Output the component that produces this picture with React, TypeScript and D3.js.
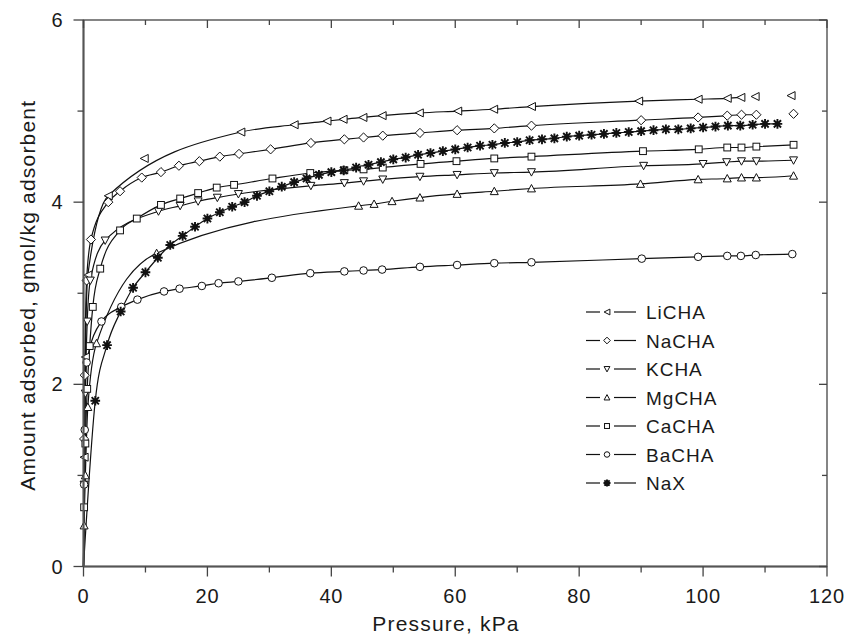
import React from "react";
import * as d3 from "d3";

// pressure (kPa) / amount adsorbed (gmol/kg)
const liP = [0.1, 0.3, 0.7, 4.0, 9.8, 25.4, 34.0, 39.3, 41.9, 45.1, 48.2, 54.2, 60.4, 66.2, 72.3, 89.6, 99.2, 103.9, 106.1, 108.4, 114.2];
const liQ = [1.2, 2.3, 3.2, 4.07, 4.48, 4.77, 4.85, 4.89, 4.91, 4.93, 4.95, 4.98, 5.0, 5.02, 5.05, 5.11, 5.13, 5.14, 5.15, 5.16, 5.17];

const naP = [0.1, 0.2, 0.5, 1.2, 4.0, 5.9, 9.4, 12.5, 15.4, 18.7, 22.0, 25.1, 30.2, 36.7, 42.1, 45.2, 48.3, 54.3, 60.3, 66.3, 72.3, 90.0, 99.2, 103.9, 106.2, 108.6, 114.6];
const naQ = [1.4, 2.1, 3.14, 3.59, 4.0, 4.12, 4.27, 4.33, 4.4, 4.45, 4.5, 4.53, 4.58, 4.65, 4.69, 4.71, 4.73, 4.76, 4.79, 4.81, 4.84, 4.9, 4.93, 4.95, 4.96, 4.96, 4.97];

const kP = [0.1, 0.3, 0.6, 1.1, 3.5, 12.1, 15.6, 18.5, 21.6, 25.0, 36.7, 42.1, 45.2, 48.3, 54.3, 60.3, 66.3, 72.3, 90.4, 100.0, 103.8, 106.2, 108.6, 114.6];
const kQ = [0.9, 1.9, 2.69, 3.14, 3.58, 3.9, 3.96, 4.01, 4.05, 4.09, 4.18, 4.21, 4.23, 4.25, 4.28, 4.3, 4.32, 4.33, 4.4, 4.42, 4.44, 4.45, 4.45, 4.46];

const mgP = [0.1, 0.3, 0.7, 2.1, 11.8, 44.4, 46.9, 49.8, 54.3, 60.3, 66.3, 72.3, 89.9, 99.2, 103.9, 106.2, 108.6, 114.6];
const mgQ = [0.45, 1.0, 1.75, 2.45, 3.44, 3.96, 3.98, 4.01, 4.05, 4.09, 4.12, 4.15, 4.2, 4.25, 4.26, 4.27, 4.27, 4.29];

const caP = [0.1, 0.3, 0.6, 1.0, 1.5, 2.7, 5.9, 8.6, 12.5, 15.6, 18.5, 21.5, 24.3, 30.5, 36.6, 42.1, 45.2, 48.3, 54.4, 60.2, 66.3, 72.3, 90.3, 99.3, 103.9, 106.2, 108.6, 114.6];
const caQ = [0.65, 1.35, 1.95, 2.42, 2.85, 3.27, 3.69, 3.82, 3.97, 4.04, 4.1, 4.16, 4.19, 4.26, 4.32, 4.35, 4.36, 4.38, 4.42, 4.45, 4.48, 4.5, 4.56, 4.58, 4.6, 4.6, 4.61, 4.63];

const baP = [0.1, 0.2, 0.5, 2.9, 6.1, 8.7, 13.0, 15.5, 19.1, 21.8, 25.0, 30.4, 36.6, 42.1, 45.2, 48.2, 54.3, 60.3, 66.3, 72.3, 90.1, 99.2, 103.9, 106.1, 108.5, 114.4];
const baQ = [0.9, 1.5, 2.24, 2.69, 2.85, 2.93, 3.02, 3.05, 3.08, 3.11, 3.13, 3.17, 3.22, 3.24, 3.25, 3.26, 3.29, 3.31, 3.33, 3.34, 3.38, 3.4, 3.41, 3.41, 3.42, 3.43];

const naxP = [1.9, 3.8, 6, 8, 10, 12, 14, 16, 18, 20, 22, 24, 26, 28, 30, 32, 34, 36, 38, 40, 42, 44, 46, 48, 50, 52, 54, 56, 58, 60, 62, 64, 66, 68, 70, 72, 74, 76, 78, 80, 82, 84, 86, 88, 90, 92, 94, 96, 98, 100, 102, 104, 106, 108, 110, 112];
const naxQ = [1.82, 2.43, 2.8, 3.06, 3.23, 3.39, 3.53, 3.63, 3.73, 3.82, 3.89, 3.95, 4.0, 4.07, 4.12, 4.17, 4.22, 4.26, 4.3, 4.33, 4.35, 4.38, 4.41, 4.44, 4.47, 4.49, 4.52, 4.54, 4.56, 4.58, 4.6, 4.62, 4.63, 4.65, 4.66, 4.68, 4.69, 4.7, 4.72, 4.73, 4.74, 4.75, 4.76, 4.77, 4.78, 4.79, 4.8, 4.8, 4.81, 4.82, 4.83, 4.84, 4.84, 4.85, 4.86, 4.86];

const xTicks = [0, 20, 40, 60, 80, 100, 120];
const xMinor = [10, 30, 50, 70, 90, 110];
const yTicks = [0, 2, 4, 6];
const yMinor = [1, 3, 5];

// points left out of the drawn curve, and where each curve stops
const series = [
  { name: "LiCHA", p: liP, q: liQ, marker: "left", lineMax: 106.5, offLine: [9.8] },
  { name: "NaCHA", p: naP, q: naQ, marker: "diamond", lineMax: 109, offLine: [] },
  { name: "KCHA", p: kP, q: kQ, marker: "down", lineMax: 120, offLine: [] },
  { name: "MgCHA", p: mgP, q: mgQ, marker: "up", lineMax: 120, offLine: [] },
  { name: "CaCHA", p: caP, q: caQ, marker: "square", lineMax: 120, offLine: [] },
  { name: "BaCHA", p: baP, q: baQ, marker: "circle", lineMax: 120, offLine: [] },
  { name: "NaX", p: naxP, q: naxQ, marker: "star", lineMax: 120, offLine: [] },
];

const W = 849;
const H = 637;
const m = { left: 83.5, right: 22, top: 20, bottom: 70.5 };
const FONT = "'Liberation Sans', Arial, sans-serif";

function Marker({ type, x, y, s }) {
  const st = { fill: "#fff", stroke: "#111", strokeWidth: 1 };
  if (type === "circle") return <circle cx={x} cy={y} r={s * 0.95} {...st} />;
  if (type === "square") return <rect x={x - s * 0.85} y={y - s * 0.85} width={s * 1.7} height={s * 1.7} {...st} />;
  if (type === "diamond")
    return <path d={`M${x},${y - s * 1.15}L${x + s * 1.15},${y}L${x},${y + s * 1.15}L${x - s * 1.15},${y}Z`} {...st} />;
  if (type === "left")
    return <path d={`M${x + s},${y - s}L${x - s},${y}L${x + s},${y + s}Z`} {...st} />;
  if (type === "down")
    return <path d={`M${x - s},${y - s * 0.85}L${x + s},${y - s * 0.85}L${x},${y + s}Z`} {...st} />;
  if (type === "up")
    return <path d={`M${x - s},${y + s * 0.85}L${x + s},${y + s * 0.85}L${x},${y - s}Z`} {...st} />;
  // asterisk
  const a = s * 1.1;
  const b = a * 0.75;
  return (
    <path
      d={`M${x - a},${y}L${x + a},${y}M${x},${y - a}L${x},${y + a}M${x - b},${y - b}L${x + b},${y + b}M${x - b},${y + b}L${x + b},${y - b}`}
      stroke="#111"
      strokeWidth={1.9}
      fill="none"
    />
  );
}

export default function App() {
  const x = d3.scaleLinear().domain([0, 120]).range([m.left, W - m.right]);
  const y = d3.scaleLinear().domain([0, 6]).range([H - m.bottom, m.top]);
  const x0 = x.range()[0];
  const x1 = x.range()[1];
  const y0 = y.range()[0];
  const y1 = y.range()[1];

  const line = d3
    .line()
    .x((d) => x(d[0]))
    .y((d) => y(d[1]))
    .curve(d3.curveMonotoneX);

  const axisColor = "#444";
  const txt = "#1a1a1a";

  return (
    <svg width={W} height={H} style={{ position: "absolute", left: 0, top: 0, background: "#fff" }} fontFamily={FONT}>
      <rect x={0} y={0} width={W} height={H} fill="#fff" />

      {/* curves */}
      {series.map((s) => {
        const pts = [[0, 0]].concat(
          s.p.map((p, i) => [p, s.q[i]]).filter((d) => d[0] <= s.lineMax && !s.offLine.includes(d[0]))
        );
        return <path key={s.name} d={line(pts)} fill="none" stroke="#111" strokeWidth={1.2} />;
      })}

      {/* markers */}
      {series.map((s) => (
        <g key={s.name + "m"}>
          {s.p.map((p, i) => (
            <Marker key={i} type={s.marker} x={x(p)} y={y(s.q[i])} s={s.marker === "star" ? 4.4 : 4} />
          ))}
        </g>
      ))}

      {/* frame */}
      <rect x={x0} y={y1} width={x1 - x0} height={y0 - y1} fill="none" stroke={axisColor} strokeWidth={1.3} />
      <line x1={x0} x2={x0} y1={y1} y2={y0} stroke="#555" strokeWidth={2} />
      <line x1={x0} x2={x1} y1={y0} y2={y0} stroke="#555" strokeWidth={2} />

      {/* x ticks */}
      {xTicks.map((t) => (
        <g key={"xt" + t}>
          <line x1={x(t)} x2={x(t)} y1={y0} y2={y0 + 10} stroke={axisColor} strokeWidth={1.3} />
          <line x1={x(t)} x2={x(t)} y1={y1} y2={y1 + 8} stroke={axisColor} strokeWidth={1.3} />
          <text x={x(t)} y={603} textAnchor="middle" fontSize={20} letterSpacing={0.8} fill={txt}>
            {t}
          </text>
        </g>
      ))}
      {xMinor.map((t) => (
        <g key={"xm" + t}>
          <line x1={x(t)} x2={x(t)} y1={y0} y2={y0 + 6} stroke={axisColor} strokeWidth={1.3} />
          <line x1={x(t)} x2={x(t)} y1={y1} y2={y1 + 5} stroke={axisColor} strokeWidth={1.3} />
        </g>
      ))}

      {/* y ticks */}
      {yTicks.map((t) => (
        <g key={"yt" + t}>
          <line x1={x0 - 10} x2={x0} y1={y(t)} y2={y(t)} stroke={axisColor} strokeWidth={1.3} />
          <line x1={x1 - 8} x2={x1} y1={y(t)} y2={y(t)} stroke={axisColor} strokeWidth={1.3} />
          <text x={x0 - 21} y={y(t) + 7} textAnchor="end" fontSize={20} fill={txt}>
            {t}
          </text>
        </g>
      ))}
      {yMinor.map((t) => (
        <g key={"ym" + t}>
          <line x1={x0 - 6} x2={x0} y1={y(t)} y2={y(t)} stroke={axisColor} strokeWidth={1.3} />
          <line x1={x1 - 5} x2={x1} y1={y(t)} y2={y(t)} stroke={axisColor} strokeWidth={1.3} />
        </g>
      ))}

      {/* axis titles */}
      <text x={446} y={631} textAnchor="middle" fontSize={21} letterSpacing={1.2} fill={txt}>
        Pressure, kPa
      </text>
      <text
        transform={`translate(35,${(y0 + y1) / 2 + 2}) rotate(-90)`}
        textAnchor="middle"
        fontSize={21}
        letterSpacing={1.2}
        fill={txt}
      >
        Amount adsorbed, gmol/kg adsorbent
      </text>

      {/* legend */}
      {series.map((s, i) => {
        const ly = 312 + i * 28.5;
        return (
          <g key={"lg" + s.name}>
            <line x1={586} x2={600} y1={ly} y2={ly} stroke="#111" strokeWidth={1.2} />
            <line x1={614} x2={636} y1={ly} y2={ly} stroke="#111" strokeWidth={1.2} />
            <Marker type={s.marker} x={607} y={ly} s={s.marker === "star" ? 3.2 : 2.9} />
            <text x={646} y={ly + 7} fontSize={19} letterSpacing={1} fill={txt}>
              {s.name}
            </text>
          </g>
        );
      })}
    </svg>
  );
}
